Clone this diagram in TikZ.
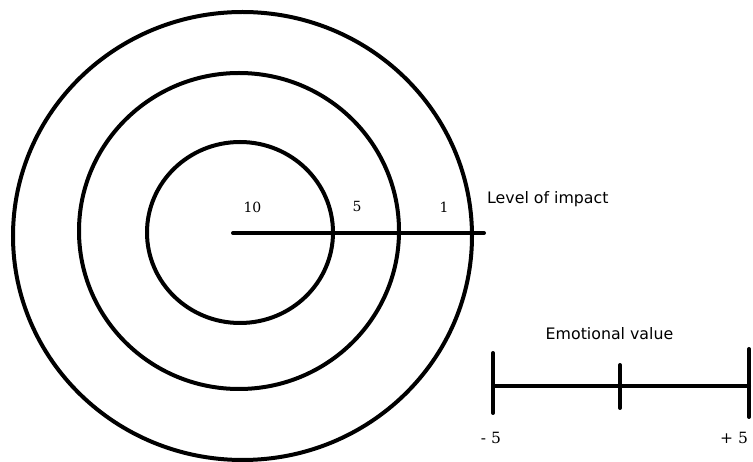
\documentclass[tikz,border=0pt]{standalone}
\usepackage{fontspec}
\setmainfont{DejaVu Serif}
\newfontfamily\labelsans{DejaVu Sans}
\begin{document}
\begin{tikzpicture}[x=1pt,y=-1pt,
  ring/.style={line width=4pt},
  bar/.style={line width=4pt,line cap=round},
  numlbl/.style={font=\fontsize{14}{16}\selectfont,inner sep=0pt},
  endlbl/.style={font=\fontsize{15.5}{18}\selectfont,inner sep=0pt},
  titlelbl/.style={font=\labelsans\fontsize{15.8}{18}\selectfont,inner sep=0pt}]
\useasboundingbox (0,0) rectangle (753,462);
% rings
\draw[ring] (242.5,236) ellipse [x radius=229.5, y radius=224];
\draw[ring] (239,231) ellipse [x radius=160, y radius=158];
\draw[ring] (240,232.5) ellipse [x radius=93, y radius=90.5];
% impact axis
\coordinate (c0) at (233,233);
\coordinate (c1) at (484,233);
\draw[bar] (c0) -- (c1);
\node[numlbl] (n10) at (252.5,207) {10};
\node[numlbl] (n5) at (357,206) {5};
\node[numlbl] (n1) at (444,207) {1};
\node[titlelbl,anchor=west] (loi) at (487,199) {Level of impact};
% emotional value scale
\coordinate (eL) at (493,386);
\coordinate (eM) at (620,386);
\coordinate (eR) at (749,386);
\draw[bar] (eL) -- (eR);
\draw[bar] (493,353) -- (493,413);
\draw[bar] (620,365) -- (620,408);
\draw[bar] (749,349) -- (749,417);
\node[titlelbl] (ev) at (609.5,334) {Emotional value};
\node[endlbl] (m5) at (491,438) {- 5};
\node[endlbl] (p5) at (734,438) {+ 5};
\end{tikzpicture}
\end{document}
